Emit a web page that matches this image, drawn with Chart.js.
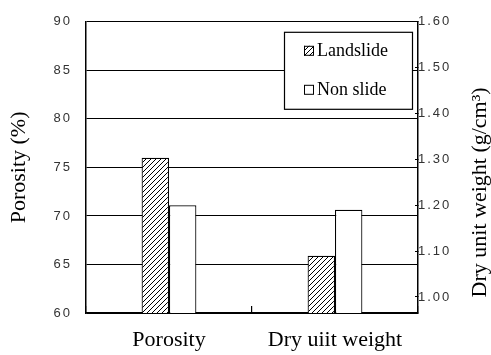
<!DOCTYPE html>
<html>
<head>
<meta charset="utf-8">
<script src="https://cdn.jsdelivr.net/npm/chart.js@4/dist/chart.umd.min.js"></script>
<style>
  html, body { margin: 0; padding: 0; background: #fff; }
  #c { display: block; }
</style>
</head>
<body>
<canvas id="c" width="491" height="355"></canvas>
<script>
// Categories on the horizontal axis
const categories = ['Porosity', 'Dry uiit weight'];
// Series (slope condition)
const seriesNames = ['Landslide', 'Non slide'];
// Porosity in %, per series
const porosity = [76.0, 71.1];
// Dry unit weight in g/cm3, per series
const dryUnitWeight = [1.09, 1.19];
// Tick values of the two value axes
const porosityTicks = [60, 65, 70, 75, 80, 85, 90];
const dryWeightTicks = [1.00, 1.10, 1.20, 1.30, 1.40, 1.50, 1.60];
// Axis titles
const porosityTitle = 'Porosity (%)';
const dryWeightTitle = 'Dry unit weight (g/cm\u00B3)';

const SERIF = '"Liberation Serif", "Times New Roman", serif';
const SANS = '"Liberation Sans", Arial, sans-serif';

// Diagonal hatch used for the landslide bars
function makeHatch(size) {
  const tile = document.createElement('canvas');
  tile.width = size; tile.height = size;
  const g = tile.getContext('2d');
  g.fillStyle = '#fff';
  g.fillRect(0, 0, size, size);
  g.strokeStyle = '#000';
  g.lineWidth = 1;
  g.beginPath();
  for (let k = -1; k <= 1; k++) {
    g.moveTo(k * size, size);
    g.lineTo(k * size + size, 0);
  }
  g.stroke();
  return g.createPattern(tile, 'repeat');
}

const fills = [makeHatch(5), '#ffffff'];

function barStyle(i) {
  return {
    backgroundColor: fills[i],
    borderColor: '#000',
    borderWidth: 1.2,
    skipNull: true,
    categoryPercentage: 0.33,
    barPercentage: 1.0
  };
}

const datasets = [];
seriesNames.forEach((name, i) => {
  datasets.push(Object.assign({ label: name, data: [porosity[i], null], yAxisID: 'y' }, barStyle(i)));
});
seriesNames.forEach((name, i) => {
  datasets.push(Object.assign({ label: name, data: [null, dryUnitWeight[i]], yAxisID: 'y1' }, barStyle(i)));
});

// Wider glyph spacing for the numeric tick labels
const tickSpacing = {
  id: 'tickSpacing',
  afterUpdate(chart) {
    ['y', 'y1'].forEach(id => {
      const s = chart.scales[id];
      if (!s || s._spaced) return;
      const orig = s.drawLabels;
      s.drawLabels = function (area) {
        const ctx = this.ctx;
        ctx.save();
        ctx.letterSpacing = '2px';
        orig.call(this, area);
        ctx.restore();
      };
      s._spaced = true;
    });
  }
};

// Boxed legend inside the top right of the plot
const boxedLegend = {
  id: 'boxedLegend',
  afterDatasetsDraw(chart) {
    const { ctx, chartArea } = chart;
    const w = 128, h = 77;
    const x = chartArea.right - 6 - w;
    const y = chartArea.top + 10;
    ctx.save();
    ctx.fillStyle = '#fff';
    ctx.fillRect(x, y, w, h);
    ctx.strokeStyle = '#000';
    ctx.lineWidth = 1.2;
    ctx.strokeRect(x + 0.5, y + 0.5, w, h);
    seriesNames.forEach((name, i) => {
      const sy = y + 14 + i * 39;
      ctx.fillStyle = fills[i];
      ctx.fillRect(x + 20, sy, 10, 10);
      ctx.lineWidth = 1;
      ctx.strokeStyle = '#000';
      ctx.strokeRect(x + 20.5, sy + 0.5, 9, 9);
      ctx.fillStyle = '#000';
      ctx.font = '18px ' + SERIF;
      ctx.textAlign = 'left';
      ctx.textBaseline = 'middle';
      ctx.fillText(name, x + 33, sy + 5);
    });
    ctx.restore();
  }
};

// Right axis title, reading bottom to top
const rightTitle = {
  id: 'rightTitle',
  afterDraw(chart) {
    const { ctx, chartArea } = chart;
    ctx.save();
    ctx.translate(chartArea.right + 62, (chartArea.top + chartArea.bottom) / 2 + 25);
    ctx.rotate(-Math.PI / 2);
    ctx.fillStyle = '#000';
    ctx.font = '22px ' + SERIF;
    ctx.textAlign = 'center';
    ctx.textBaseline = 'middle';
    ctx.fillText(dryWeightTitle, 0, 0);
    ctx.restore();
  }
};

new Chart(document.getElementById('c'), {
  type: 'bar',
  data: { labels: categories, datasets },
  options: {
    responsive: false,
    animation: false,
    layout: { padding: { top: 19, left: 0, right: 0, bottom: 0 } },
    plugins: {
      legend: { display: false },
      tooltip: { enabled: false }
    },
    scales: {
      x: {
        offset: true,
        grid: {
          display: true, offset: true, drawOnChartArea: false,
          drawTicks: true, tickLength: -7, color: '#000', lineWidth: 1.2
        },
        border: { display: true, color: '#000', width: 1.5 },
        ticks: {
          color: '#000', padding: 21, maxRotation: 0, autoSkip: false,
          font: { family: SERIF, size: 22 }
        },
        afterFit(s) { s.height = 42; }
      },
      y: {
        position: 'left',
        min: 60, max: 90,
        afterBuildTicks(s) { s.ticks = porosityTicks.map(v => ({ value: v })); },
        grid: { color: '#000', lineWidth: 1, drawTicks: false },
        border: { display: true, color: '#000', width: 1.5 },
        ticks: { color: '#333', padding: 14, font: { family: SANS, size: 13 } },
        title: {
          display: true, text: porosityTitle, color: '#000',
          font: { family: SERIF, size: 22 }, padding: { top: 6, bottom: 0 }
        },
        afterFit(s) { s.width = 86; }
      },
      y1: {
        position: 'right',
        min: 0.965, max: 1.6,
        afterBuildTicks(s) { s.ticks = dryWeightTicks.map(v => ({ value: v })); },
        grid: { drawOnChartArea: false, color: '#000', lineWidth: 1, drawTicks: true, tickLength: -3 },
        border: { display: true, color: '#000', width: 1.5 },
        ticks: {
          color: '#333', padding: 3, font: { family: SANS, size: 13 },
          callback: v => Number(v).toFixed(2)
        },
        afterFit(s) { s.width = 73; }
      }
    }
  },
  plugins: [tickSpacing, boxedLegend, rightTitle]
});
</script>
</body>
</html>
